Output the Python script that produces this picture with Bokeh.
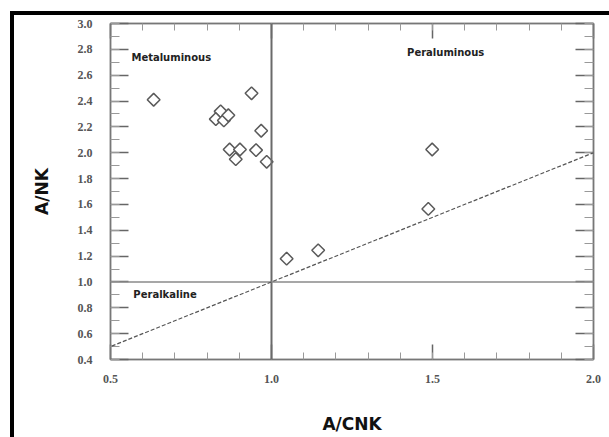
import math
from bokeh.plotting import figure
from bokeh.models import (Range1d, LinearAxis, NumeralTickFormatter, SingleIntervalTicker,
                          Span, Label, Slope, CustomLabelingPolicy)
from bokeh.embed import file_html
from bokeh.resources import INLINE

# Data (A/CNK, A/NK)
acnk = [0.634, 0.938, 0.842, 0.827, 0.852, 0.866, 0.968, 0.870, 0.902, 0.889, 0.952, 0.985,
        1.047, 1.145, 1.499, 1.487]
anK = [2.41, 2.46, 2.32, 2.26, 2.25, 2.29, 2.17, 2.025, 2.025, 1.95, 2.02, 1.93,
       1.18, 1.245, 2.025, 1.565]

region_names = ["Metaluminous", "Peraluminous", "Peralkaline"]
region_x = [0.565, 1.421, 0.571]
region_y = [2.737, 2.774, 0.903]

x_ticks_step = 0.5
y_ticks_step = 0.2

# canvas starts after 10px margin + 4px border (left), 11px margin + 4px border (top)
p = figure(frame_width=483, frame_height=336, output_backend="svg", toolbar_location=None,
           x_range=Range1d(0.5, 2.0), y_range=Range1d(0.4, 3.0),
           min_border_left=96, min_border_right=16, min_border_top=8, min_border_bottom=78,
           x_axis_label="A/CNK", y_axis_label="A/NK")
p.styles = {"margin-left": "10px", "margin-top": "11px",
            "border-left": "4px solid black", "border-top": "4px solid black"}
p.background_fill_color = "white"
p.border_fill_color = "white"
p.grid.visible = False
p.outline_line_color = "#8a8a8a"
p.outline_line_width = 1.5

def style_axis(ax, ticker, major_len, minor_len, labels=True):
    ax.ticker = ticker
    ax.axis_line_color = "#777777"
    ax.axis_line_width = 1.5
    ax.major_tick_in = major_len
    ax.major_tick_out = 0
    ax.minor_tick_in = minor_len
    ax.minor_tick_out = 0
    ax.major_tick_line_color = "#666666"
    ax.minor_tick_line_color = "#999999"
    ax.major_tick_line_width = 1.5
    ax.minor_tick_line_width = 1
    ax.formatter = NumeralTickFormatter(format="0.0")
    ax.major_label_text_font = "Liberation Serif"
    ax.major_label_text_font_size = "12px"
    ax.major_label_text_color = "#555555"
    ax.major_label_text_font_style = "bold"
    if not labels:
        ax.major_label_policy = CustomLabelingPolicy(code="return []")
        ax.major_label_text_font_size = "1px"
        ax.major_label_standoff = 0
        ax.axis_label_standoff = 0
    ax.axis_label_text_font = "DejaVu Sans"
    ax.axis_label_text_font_style = "bold"
    ax.axis_label_text_font_size = "17px"
    ax.axis_label_text_color = "#111111"

xt = lambda: SingleIntervalTicker(interval=x_ticks_step, num_minor_ticks=5)
yt = lambda: SingleIntervalTicker(interval=y_ticks_step, num_minor_ticks=2)

style_axis(p.xaxis[0], xt(), 15, 7)
style_axis(p.yaxis[0], yt(), 18, 9)
p.xaxis[0].major_label_standoff = 15
p.xaxis[0].axis_label_standoff = 28
p.yaxis[0].major_label_standoff = 18
p.yaxis[0].axis_label_standoff = 23

top = LinearAxis()
right = LinearAxis()
style_axis(top, xt(), 15, 7, labels=False)
style_axis(right, yt(), 18, 9, labels=False)
p.add_layout(top, "above")
p.add_layout(right, "right")

# reference lines
p.add_layout(Span(location=1.0, dimension="height", line_color="#6a6a6a", line_width=2))
p.add_layout(Span(location=1.0, dimension="width", line_color="#8a8a8a", line_width=1.5))
p.add_layout(Slope(gradient=1.0, y_intercept=0.0, line_color="#555555", line_width=1.2,
                   line_dash="4 2"))

p.scatter(acnk, anK, marker="square", angle=math.pi / 4, size=9, fill_color="white",
          line_color="#5a5a5a", line_width=1.5)

for name, x, y in zip(region_names, region_x, region_y):
    p.add_layout(Label(x=x, y=y, text=name, text_font="DejaVu Sans", text_font_style="bold",
                       text_font_size="10px", text_color="#222222", text_baseline="middle"))

open("out.html", "w").write(file_html(p, INLINE))
